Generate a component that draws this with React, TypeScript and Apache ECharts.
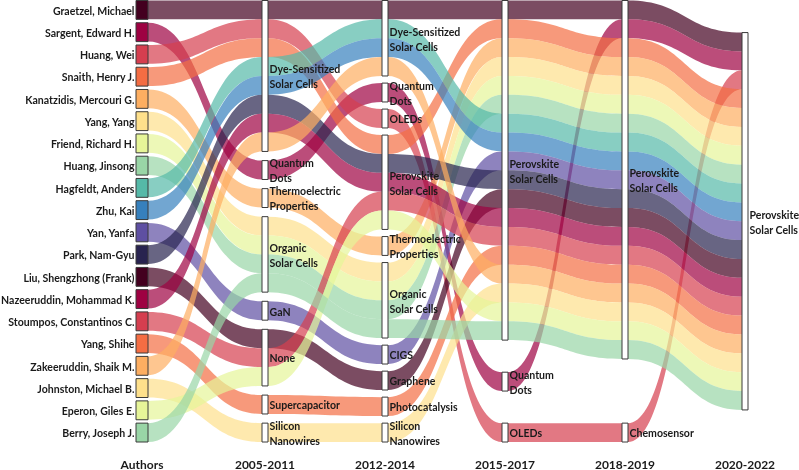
import React, { useEffect, useRef } from "react";
import * as echarts from "echarts";

const authors = [
  "Graetzel, Michael",
  "Sargent, Edward H.",
  "Huang, Wei",
  "Snaith, Henry J.",
  "Kanatzidis, Mercouri G.",
  "Yang, Yang",
  "Friend, Richard H.",
  "Huang, Jinsong",
  "Hagfeldt, Anders",
  "Zhu, Kai",
  "Yan, Yanfa",
  "Park, Nam-Gyu",
  "Liu, Shengzhong (Frank)",
  "Nazeeruddin, Mohammad K.",
  "Stoumpos, Constantinos C.",
  "Yang, Shihe",
  "Zakeeruddin, Shaik M.",
  "Johnston, Michael B.",
  "Eperon, Giles E.",
  "Berry, Joseph J.",
];

const periods = ["Authors", "2005-2011", "2012-2014", "2015-2017", "2018-2019", "2020-2022"];

const DSSC = "Dye-Sensitized Solar Cells";
const PSC = "Perovskite Solar Cells";
const OSC = "Organic Solar Cells";
const QD = "Quantum Dots";
const TE = "Thermoelectric Properties";
const SINW = "Silicon Nanowires";

// Topic nodes of each period, top to bottom
const topics2005 = [DSSC, QD, TE, OSC, "GaN", "None", "Supercapacitor", SINW];
const topics2012 = [DSSC, QD, "OLEDs", PSC, TE, OSC, "CIGS", "Graphene", "Photocatalysis", SINW];
const topics2015 = [PSC, QD, "OLEDs"];
const topics2018 = [PSC, "Chemosensor"];
const topics2020 = [PSC];

// Main research topic of each author in each period (same order as authors)
const path2005 = [
  DSSC, QD, DSSC, DSSC, TE, OSC, OSC, OSC, DSSC, DSSC,
  "GaN", DSSC, "None", DSSC, "None", "Supercapacitor", DSSC, SINW, "None", OSC,
];
const path2012 = [
  DSSC, QD, "OLEDs", PSC, TE, OSC, OSC, OSC, DSSC, DSSC,
  "CIGS", PSC, "Graphene", PSC, PSC, "Photocatalysis", DSSC, SINW, PSC, OSC,
];
const path2015 = [
  PSC, QD, "OLEDs", PSC, PSC, PSC, PSC, PSC, PSC, PSC,
  PSC, PSC, PSC, PSC, PSC, PSC, PSC, PSC, PSC, PSC,
];
const path2018 = [
  PSC, PSC, "Chemosensor", PSC, PSC, PSC, PSC, PSC, PSC, PSC,
  PSC, PSC, PSC, PSC, PSC, PSC, PSC, PSC, PSC, PSC,
];
const path2020 = [
  PSC, PSC, PSC, PSC, PSC, PSC, PSC, PSC, PSC, PSC,
  PSC, PSC, PSC, PSC, PSC, PSC, PSC, PSC, PSC, PSC,
];

// Author colours cycle through this palette
const palette = [
  "#43001f", "#9e0142", "#d53e4f", "#f46d43", "#fdae61", "#fee08b",
  "#e6f598", "#99d5a6", "#55b9a8", "#3680bd", "#5e4fa2", "#28234f",
];

// Vertical extent of every column, measured in author flows
const COLUMN_SPAN = 23.4;
const FONT = "Lato, 'Noto Sans', sans-serif";
const TEXT_SQUEEZE = 0.88;

type NodeInfo = { col: number; name: string; y: number; size: number };

function buildLayout() {
  const columns = [authors, topics2005, topics2012, topics2015, topics2018, topics2020];
  const membership = [authors, path2005, path2012, path2015, path2018, path2020];
  const nodes: NodeInfo[] = [];
  const slots: number[][] = [];
  columns.forEach((names, col) => {
    const members = membership[col];
    const sizes = names.map((n) => members.filter((m) => m === n).length);
    const total = sizes.reduce((a, b) => a + b, 0);
    const free = COLUMN_SPAN - total;
    const gap = names.length > 1 ? free / (names.length - 1) : 0;
    let y = names.length > 1 ? 0 : free / 2;
    const top: Record<string, number> = {};
    names.forEach((n, i) => {
      top[n] = y;
      nodes.push({ col, name: n, y, size: sizes[i] });
      y += sizes[i] + gap;
    });
    const used: Record<string, number> = {};
    slots[col] = members.map((m) => {
      const k = used[m] || 0;
      used[m] = k + 1;
      return top[m] + k;
    });
  });
  const links: number[][] = [];
  for (let col = 0; col < columns.length - 1; col++) {
    authors.forEach((_, a) => {
      links.push([col, slots[col][a], col + 1, slots[col + 1][a], a]);
    });
  }
  return { nodes, links };
}

// Node bars hang to the left of their column position
const nodeWidth = (col: number) => (col === 0 ? 12 : 6);

export default function App() {
  const ref = useRef<HTMLDivElement>(null);

  useEffect(() => {
    if (!ref.current) return;
    const chart = echarts.init(ref.current, undefined, { renderer: "svg" });
    const { nodes, links } = buildLayout();

    const headerStyle = {
      fontFamily: FONT,
      fontWeight: "bold",
      fontSize: 12,
      color: "#1a1a1a",
    };

    chart.setOption({
      animation: false,
      grid: { left: 148, right: 51, top: 0.5, bottom: 28 },
      xAxis: {
        type: "value",
        min: 0,
        max: periods.length - 1,
        interval: 1,
        axisLine: { show: false },
        axisTick: { show: false },
        splitLine: { show: false },
        axisLabel: {
          margin: 16,
          showMinLabel: true,
          showMaxLabel: true,
          formatter: (v: number) => (v === 0 ? `{a|${periods[v]}}` : `{p|${periods[v] ?? ""}}`),
          rich: {
            a: { ...headerStyle, padding: [0, 12, 0, 0] },
            p: { ...headerStyle, padding: [0, 6, 0, 0] },
          },
        },
      },
      yAxis: { type: "value", min: 0, max: COLUMN_SPAN, inverse: true, show: false },
      series: [
        {
          type: "custom",
          name: "flows",
          clip: false,
          data: links,
          renderItem: (_params: any, api: any) => {
            const c0 = api.value(0);
            const y0 = api.value(1);
            const c1 = api.value(2);
            const y1 = api.value(3);
            const a = api.value(4);
            const s0 = api.coord([c0, y0]);
            const s1 = api.coord([c0, y0 + 1]);
            const e0 = api.coord([c1, y1]);
            const e1 = api.coord([c1, y1 + 1]);
            const xs = s0[0];
            const xe = e0[0] - nodeWidth(c1);
            const xm = (xs + xe) / 2;
            const d =
              `M${xs},${s0[1]} C${xm},${s0[1]} ${xm},${e0[1]} ${xe},${e0[1]} ` +
              `L${xe},${e1[1]} C${xm},${e1[1]} ${xm},${s1[1]} ${xs},${s1[1]} Z`;
            return {
              type: "path",
              shape: { pathData: d },
              style: { fill: palette[a % palette.length], opacity: 0.7 },
            };
          },
        },
        {
          type: "custom",
          name: "nodes",
          clip: false,
          data: nodes.map((n, i) => [n.col, n.y, n.size, i]),
          renderItem: (_params: any, api: any) => {
            const col = api.value(0);
            const y = api.value(1);
            const size = api.value(2);
            const idx = api.value(3);
            const node = nodes[idx];
            const top = api.coord([col, y]);
            const bottom = api.coord([col, y + size]);
            const w = nodeWidth(col);
            const isAuthor = col === 0;
            return {
              type: "group",
              children: [
                {
                  type: "rect",
                  shape: { x: top[0] - w, y: top[1], width: w, height: bottom[1] - top[1] },
                  style: {
                    fill: isAuthor ? palette[idx % palette.length] : "#ffffff",
                    stroke: "#3a3a3a",
                    lineWidth: 1,
                  },
                },
                {
                  type: "text",
                  x: isAuthor ? top[0] - w - 1.5 : top[0] + 1.5,
                  y: (top[1] + bottom[1]) / 2,
                  scaleX: TEXT_SQUEEZE,
                  style: {
                    text: isAuthor ? node.name : node.name.replace(" ", "\n"),
                    align: isAuthor ? "right" : "left",
                    verticalAlign: "middle",
                    fontFamily: FONT,
                    fontWeight: "bold",
                    fontSize: 12,
                    lineHeight: 15,
                    fill: "#1a1a1a",
                  },
                },
              ],
            };
          },
        },
      ],
    });

    return () => chart.dispose();
  }, []);

  return (
    <div
      ref={ref}
      style={{ position: "fixed", left: 0, top: 0, width: 799, height: 470 }}
    />
  );
}
